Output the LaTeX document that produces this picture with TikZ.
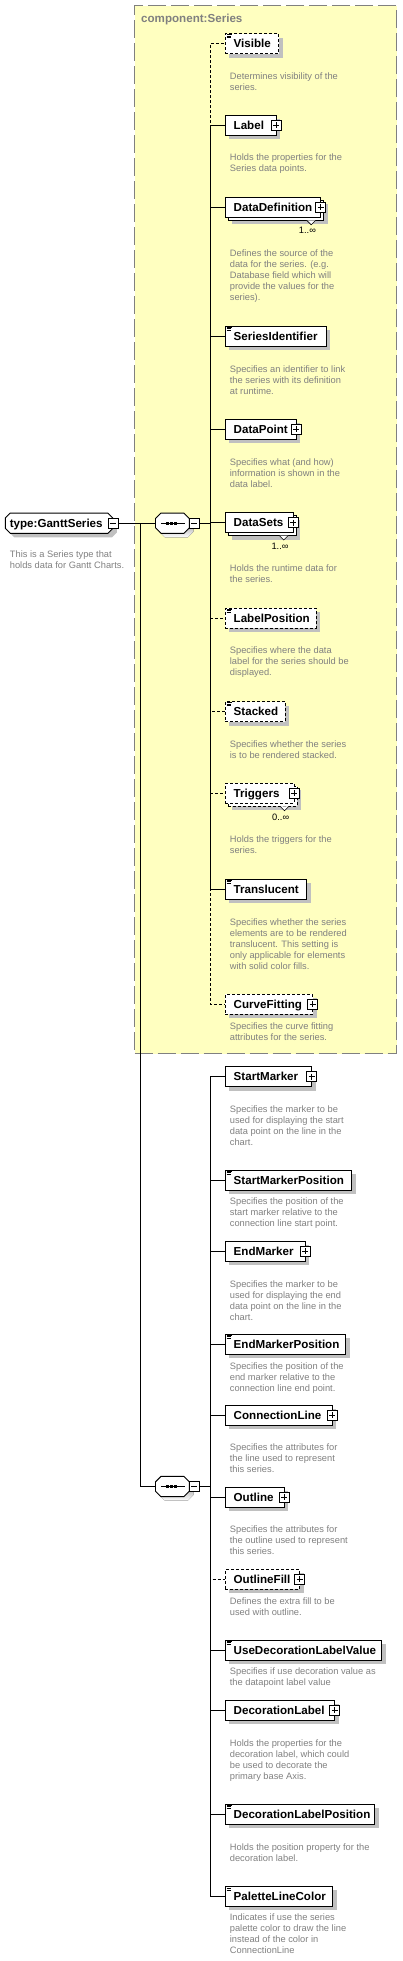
\documentclass[tikz,border=0pt]{standalone}
\usepackage{fontspec}
\setmainfont{Liberation Sans}
\usetikzlibrary{shapes.misc,shadows}
\definecolor{shade}{HTML}{C0C0C0}
\definecolor{cream}{HTML}{FFFFC0}
\definecolor{ash}{HTML}{808080}
\newcommand{\ename}{\fontsize{11.6}{13}\selectfont\bfseries}
\newcommand{\dname}{\fontsize{9.3}{11}\selectfont}
\newcommand{\docicon}[1]{\draw[line width=0.6pt] ([shift={(1.3,0.6)}]#1.north west) -- ++(5,0) ([shift={(1.3,2.3)}]#1.north west) -- ++(4.5,0) ([shift={(1.3,4)}]#1.north west) -- ++(4.5,0);}
\newcommand{\notch}[1]{\filldraw[fill=white, line width=0.6pt] ([shift={(-14,3)}]#1.south east) -- ([shift={(-9.5,7.5)}]#1.south east) -- ([shift={(-5,3)}]#1.south east);}
\newcommand{\octa}[3]{([shift={(#2+#3,#3)}]#1.north west) -- ([shift={(-#2+#3,#3)}]#1.north east) -- ([shift={(#3,#2+#3)}]#1.north east) -- ([shift={(#3,-#2+#3)}]#1.south east) -- ([shift={(-#2+#3,#3)}]#1.south east) -- ([shift={(#2+#3,#3)}]#1.south west) -- ([shift={(#3,-#2+#3)}]#1.south west) -- ([shift={(#3,#2+#3)}]#1.north west) -- cycle}
\newcommand{\seqshape}[1]{\fill[shade] \octa{#1}{5.5}{4}; \filldraw[fill=white, line width=0.9pt] \octa{#1}{5.5}{0};
  \draw[line width=0.9pt] ([xshift=-11.5pt]#1.center) -- ([xshift=13pt]#1.center);
  \fill ([xshift=-4.5pt]#1.center) +(-1.5pt,-1.5pt) rectangle +(1.5pt,1.5pt);
  \fill ([xshift=-0.7pt]#1.center) +(-1.5pt,-1.5pt) rectangle +(1.5pt,1.5pt);
  \fill ([xshift=3.1pt]#1.center) +(-1.5pt,-1.5pt) rectangle +(1.5pt,1.5pt);}
\tikzset{
  elembase/.style={rectangle, draw=black, fill=white, line width=0.9pt, anchor=west, inner xsep=8.4pt, inner ysep=0pt,
              outer sep=0pt, minimum height=20pt, text height=9pt, text depth=1pt, align=left, font=\ename},
  elem/.style={elembase, drop shadow={shadow xshift=4pt, shadow yshift=-4pt, fill=shade, draw=none, opacity=1}},
  optelem/.style={elem, dash pattern=on 3pt off 2pt},
  multelem/.style={elembase, drop shadow={shadow xshift=7pt, shadow yshift=-7pt, fill=shade, draw=none, opacity=1},
              copy shadow={shadow xshift=3pt, shadow yshift=-3pt, draw=black, fill=white, opacity=1}},
  optmultelem/.style={multelem, dash pattern=on 3pt off 2pt},
  plusbox/.style={rectangle, draw=black, fill=white, line width=0.8pt, solid, minimum size=10pt, inner sep=0pt, outer sep=0pt,
              path picture={\draw[line width=0.8pt] ([xshift=2pt]path picture bounding box.west) -- ([xshift=-2pt]path picture bounding box.east)
              ([yshift=-2pt]path picture bounding box.north) -- ([yshift=2pt]path picture bounding box.south);}},
  minusbox/.style={rectangle, draw=black, fill=white, line width=0.8pt, solid, minimum size=10pt, inner sep=0pt, outer sep=0pt,
              path picture={\draw[line width=0.8pt] ([xshift=2pt]path picture bounding box.west) -- ([xshift=-2pt]path picture bounding box.east);}},
  seqbox/.style={rectangle, minimum width=33.8pt, minimum height=20.3pt, inner sep=0pt, outer sep=0pt},
  typebox/.style={chamfered rectangle, chamfered rectangle xsep=2.5pt, chamfered rectangle ysep=2.5pt, draw=black, fill=white,
              line width=0.9pt, anchor=west, inner xsep=2pt, inner ysep=0pt, outer sep=0pt, minimum height=20.3pt,
              text height=9pt, text depth=1pt, align=left, font=\ename,
              drop shadow={shadow xshift=4pt, shadow yshift=-4pt, fill=shade, draw=none, opacity=1}},
  grpbox/.style={rectangle, draw=ash, fill=cream, line width=1pt, dash pattern=on 18pt off 5pt, anchor=north west, inner sep=0pt},
  note/.style={anchor=north west, inner sep=0pt, align=left, text=ash, font=\dname},
  mult/.style={anchor=east, inner sep=0pt, font=\dname},
  link/.style={line width=0.9pt},
  optlink/.style={link, dash pattern=on 3pt off 2pt}
}
\begin{document}
\begin{tikzpicture}[x=1pt, y=-1pt]
  \useasboundingbox (0,0) rectangle (402,1961);
  \node[grpbox, minimum width=262.3pt, minimum height=1048pt] (grp) at (134,5.3) {};
  \node[font=\ename, text=ash, anchor=base west, inner sep=0pt] (grp-t) at (141,23) {component:Series};

  \node[typebox, text width=98.6pt] (root) at (5.3,523.2) {type:GanttSeries};
  \node[minusbox] (root-m) at (root.east) {};
  \node[note] (root-d) at (9.7,550.9) {This is a Series type that\\holds data for Gantt Charts.};

  \node[seqbox] (sq1) at (172.4,523.2) {}; \seqshape{sq1}
  \node[minusbox, anchor=west] (sq1-m) at (sq1.east) {};
  \node[seqbox] (sq2) at (172.4,1486.5) {}; \seqshape{sq2}
  \node[minusbox, anchor=west] (sq2-m) at (sq2.east) {};
  \coordinate (fork) at (140.3,523.2);
  \coordinate (sp1) at (210.3,523.2);
  \coordinate (sp2) at (210.3,1486.5);

  \node[optelem, text width=36.6pt] (vis) at (225.3,43.7) {Visible}; \docicon{vis}
  \node[note] (vis-d) at (229.7,72.3) {Determines visibility of the\\series.};
  \node[elem, text width=33.9pt] (lab) at (225.3,125.5) {Label}; \node[plusbox] (lab-p) at (lab.east) {};
  \node[note] (lab-d) at (229.7,153.6) {Holds the properties for the\\Series data points.};
  \node[multelem, text width=78.6pt] (dd) at (225.3,207.3) {DataDefinition}; \node[plusbox] (dd-p) at (dd.east) {}; \notch{dd}
  \node[mult] (dd-n) at ([shift={(-4.6,13.5)}]dd.south east) {1..∞};
  \node[note] (dd-d) at (229.7,249.9) {Defines the source of the\\data for the series. (e.g.\\Database field which will\\provide the values for the\\series).};
  \node[elem, text width=84.2pt] (sid) at (225.3,336.2) {SeriesIdentifier}; \docicon{sid}
  \node[note] (sid-d) at (229.7,365.3) {Specifies an identifier to link\\the series with its definition\\at runtime.};
  \node[elem, text width=54.2pt] (dp) at (225.3,429.3) {DataPoint}; \node[plusbox] (dp-p) at (dp.east) {};
  \node[note] (dp-d) at (229.7,458.3) {Specifies what (and how)\\information is shown in the\\data label.};
  \node[multelem, text width=51.2pt] (ds) at (225.3,522.5) {DataSets}; \node[plusbox] (ds-p) at (ds.east) {}; \notch{ds}
  \node[mult] (ds-n) at ([shift={(-4.6,13.5)}]ds.south east) {1..∞};
  \node[note] (ds-d) at (229.7,564.9) {Holds the runtime data for\\the series.};
  \node[optelem, text width=73.9pt] (lp) at (225.3,618.3) {LabelPosition}; \docicon{lp}
  \node[note] (lp-d) at (229.7,646.9) {Specifies where the data\\label for the series should be\\displayed.};
  \node[optelem, text width=42.9pt] (st) at (225.3,711.5) {Stacked}; \docicon{st}
  \node[note] (st-d) at (229.7,740.3) {Specifies whether the series\\is to be rendered stacked.};
  \node[optmultelem, text width=51.9pt] (tr) at (225.3,793.3) {Triggers}; \node[plusbox] (tr-p) at (tr.east) {}; \notch{tr}
  \node[mult] (tr-n) at ([shift={(-4.6,13.5)}]tr.south east) {0..∞};
  \node[note] (tr-d) at (229.7,835.9) {Holds the triggers for the\\series.};
  \node[elem, text width=64.6pt] (tl) at (225.3,889.3) {Translucent}; \docicon{tl}
  \node[note] (tl-d) at (229.7,918.3) {Specifies whether the series\\elements are to be rendered\\translucent. This setting is\\only applicable for elements\\with solid color fills.};
  \node[optelem, text width=70.4pt] (cf) at (225.3,1004.3) {CurveFitting}; \node[plusbox] (cf-p) at (cf.east) {};
  \node[note] (cf-d) at (229.7,1022.3) {Specifies the curve fitting\\attributes for the series.};

  \node[elem, text width=69.6pt] (sm) at (225.3,1076.5) {StartMarker}; \node[plusbox] (sm-p) at (sm.east) {};
  \node[note] (sm-d) at (229.7,1105.3) {Specifies the marker to be\\used for displaying the start\\data point on the line in the\\chart.};
  \node[elem, text width=109.6pt] (smp) at (225.3,1180.3) {StartMarkerPosition}; \docicon{smp}
  \node[note] (smp-d) at (229.7,1197.9) {Specifies the position of the\\start marker relative to the\\connection line start point.};
  \node[elem, text width=63.2pt] (em) at (225.3,1251.3) {EndMarker}; \node[plusbox] (em-p) at (em.east) {};
  \node[note] (em-d) at (229.7,1280.1) {Specifies the marker to be\\used for displaying the end\\data point on the line in the\\chart.};
  \node[elem, text width=103.6pt] (emp) at (225.3,1344.3) {EndMarkerPosition}; \docicon{emp}
  \node[note] (emp-d) at (229.7,1362.3) {Specifies the position of the\\end marker relative to the\\connection line end point.};
  \node[elem, text width=89.9pt] (cl) at (225.3,1415.3) {ConnectionLine}; \node[plusbox] (cl-p) at (cl.east) {};
  \node[note] (cl-d) at (229.7,1443.9) {Specifies the attributes for\\the line used to represent\\this series.};
  \node[elem, text width=42.3pt] (ol) at (225.3,1497.3) {Outline}; \node[plusbox] (ol-p) at (ol.east) {};
  \node[note] (ol-d) at (229.7,1525.9) {Specifies the attributes for\\the outline used to represent\\this series.};
  \node[optelem, text width=57.4pt] (of) at (225.3,1579.3) {OutlineFill}; \node[plusbox] (of-p) at (of.east) {};
  \node[note] (of-d) at (229.7,1597.3) {Defines the extra fill to be\\used with outline.};
  \node[elem, text width=139.6pt] (udl) at (225.3,1650.3) {UseDecorationLabelValue}; \docicon{udl}
  \node[note] (udl-d) at (229.7,1667.9) {Specifies if use decoration value as\\the datapoint label value};
  \node[elem, text width=92.4pt] (dl) at (225.3,1710.2) {DecorationLabel}; \node[plusbox] (dl-p) at (dl.east) {};
  \node[note] (dl-d) at (229.7,1739.3) {Holds the properties for the\\decoration label, which could\\be used to decorate the\\primary base Axis.};
  \node[elem, text width=132.6pt] (dlp) at (225.3,1814.3) {DecorationLabelPosition}; \docicon{dlp}
  \node[note] (dlp-d) at (229.7,1843.3) {Holds the position property for the\\decoration label.};
  \node[elem, text width=90.6pt] (plc) at (225.3,1896) {PaletteLineColor}; \docicon{plc}
  \node[note] (plc-d) at (229.7,1913.9) {Indicates if use the series\\palette color to draw the line\\instead of the color in\\ConnectionLine};

  \draw[link] (root-m) -- (sq1); \draw[link] (fork) |- (sq2.west);
  \draw[link] (sq1-m) -- (sp1); \draw[link] (sq2-m) -- (sp2);
  \draw[optlink] (sp1) |- (vis.west); \draw[optlink] (sp1) |- (lp.west); \draw[optlink] (sp1) |- (st.west);
  \draw[optlink] (sp1) |- (tr.west); \draw[optlink] (sp1) |- (cf.west);
  \draw[link] (sp1) |- (lab.west); \draw[link] (sp1) |- (dd.west); \draw[link] (sp1) |- (sid.west);
  \draw[link] (sp1) |- (dp.west); \draw[link] (sp1) |- (ds.west); \draw[link] (sp1) |- (tl.west);
  \draw[optlink] (sp2) |- (of.west);
  \draw[link] (sp2) |- (sm.west); \draw[link] (sp2) |- (smp.west); \draw[link] (sp2) |- (em.west);
  \draw[link] (sp2) |- (emp.west); \draw[link] (sp2) |- (cl.west); \draw[link] (sp2) |- (ol.west);
  \draw[link] (sp2) |- (udl.west); \draw[link] (sp2) |- (dl.west); \draw[link] (sp2) |- (dlp.west);
  \draw[link] (sp2) |- (plc.west);
\end{tikzpicture}
\end{document}
